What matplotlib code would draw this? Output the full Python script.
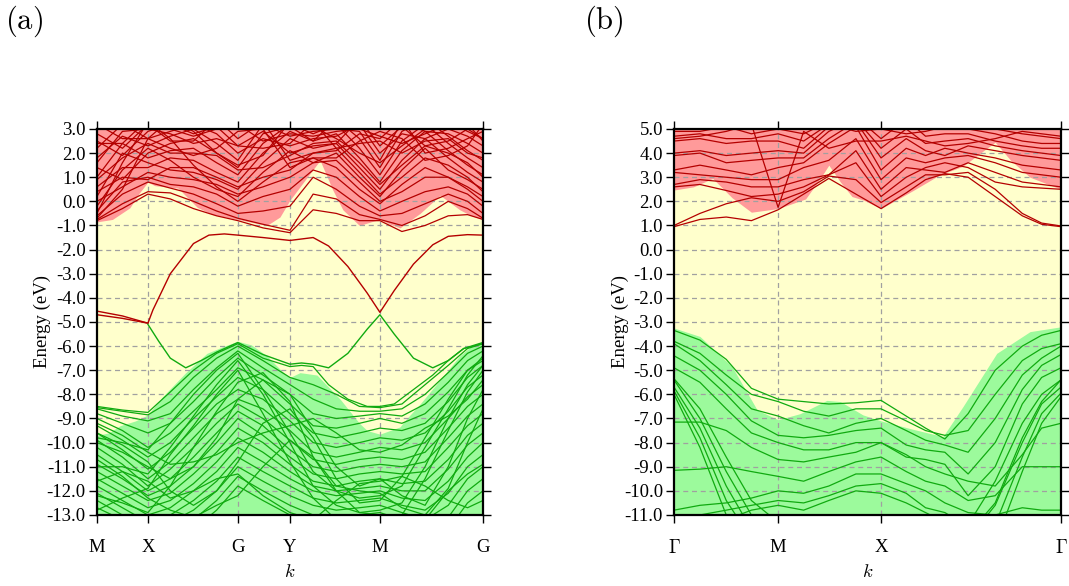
import matplotlib
matplotlib.use("Agg")
import matplotlib.pyplot as plt
import numpy as np

plt.rcParams['font.family'] = ['Liberation Serif', 'DejaVu Serif']
plt.rcParams['mathtext.fontset'] = 'cm'
plt.rcParams['axes.unicode_minus'] = False

# ---------------- panel (a) data ----------------
a_tick_pos = [0.0, 0.132, 0.365, 0.5, 0.733, 1.0]
a_tick_lab = ['M', 'X', 'G', 'Y', 'M', 'G']
a_ylim = (-13.0, 3.0)
a_grid = [0.0, 0.066, 0.132, 0.19, 0.25, 0.31, 0.365, 0.43, 0.5, 0.56, 0.62, 0.68, 0.733, 0.79, 0.85, 0.91, 0.96, 1.0]

# conduction band envelope (lower edge of red region)
a_cb_env_k = [0.0, 0.04, 0.085, 0.11, 0.132, 0.15, 0.18, 0.21, 0.26, 0.30, 0.365, 0.41, 0.44, 0.474, 0.5, 0.54, 0.578, 0.61, 0.637, 0.68, 0.71, 0.733, 0.76, 0.785, 0.837, 0.889, 0.94, 0.97, 1.0]
a_cb_env_E = [-0.85, -0.75, -0.27, 0.35, 0.8, 0.65, 0.6, 0.55, -0.25, -0.55, -0.75, -0.9, -1.0, -0.65, 0.05, 0.9, 1.7, 0.5, -0.35, -1.0, -0.85, -0.75, -0.95, -1.1, -0.5, 0.25, -0.35, -0.6, -0.75]
# valence band envelope (upper edge of green region)
a_vb_env_k = [0.0, 0.03, 0.06, 0.10, 0.132, 0.17, 0.23, 0.285, 0.33, 0.365, 0.40, 0.44, 0.48, 0.5, 0.526, 0.57, 0.63, 0.68, 0.70, 0.733, 0.785, 0.80, 0.837, 0.889, 0.94, 0.97, 1.0]
a_vb_env_E = [-9.7, -9.6, -9.3, -9.1, -8.85, -8.1, -7.1, -6.3, -6.0, -5.8, -5.95, -6.4, -7.05, -7.3, -7.1, -7.2, -8.2, -9.2, -9.5, -9.65, -9.35, -9.05, -8.4, -7.4, -6.4, -6.0, -5.8]

# in-gap conduction bands
a_cgap1_k = [0.0, 0.066, 0.132, 0.145, 0.16, 0.19, 0.25, 0.29, 0.33, 0.365, 0.43, 0.5, 0.56, 0.60, 0.65, 0.70, 0.733, 0.77, 0.82, 0.87, 0.91, 0.96, 1.0]
a_cgap1_E = [-4.55, -4.75, -5.05, -4.5, -4.0, -3.0, -1.75, -1.4, -1.35, -1.4, -1.5, -1.62, -1.5, -1.85, -2.7, -3.8, -4.6, -3.7, -2.6, -1.8, -1.45, -1.38, -1.4]
a_cgap2_k = [0.0, 0.066, 0.132]
a_cgap2_E = [-4.7, -4.85, -5.05]
# in-gap valence bands
a_vgap_k = [0.132, 0.16, 0.19, 0.23, 0.27, 0.31, 0.365, 0.43, 0.5, 0.53, 0.56, 0.6, 0.65, 0.70, 0.733, 0.77, 0.82, 0.87, 0.91, 0.95, 1.0]
a_vgap_E = [-5.1, -5.8, -6.5, -6.9, -6.6, -6.25, -5.85, -6.35, -6.75, -6.7, -6.75, -6.9, -6.3, -5.3, -4.7, -5.5, -6.5, -6.9, -6.6, -6.1, -5.85]
a_vgap2_k = [0.0, 0.066, 0.132, 0.19, 0.25, 0.31, 0.365, 0.43, 0.5, 0.53, 0.56, 0.6, 0.65, 0.70, 0.733, 0.77, 0.82, 0.87, 0.91, 0.95, 1.0]
a_vgap2_E = [-8.5, -8.65, -8.75, -7.9, -7.0, -6.3, -5.9, -6.5, -6.85, -6.8, -6.85, -7.6, -8.2, -8.5, -8.5, -8.4, -7.8, -7.2, -6.6, -6.1, -5.9]

a_red_bands = [
    [-0.8, -0.3, 0.3, 0.1, -0.3, -0.6, -0.8, -1.1, -1.3, -0.35, -0.5, -0.8, -0.8, -1.25, -1.0, -0.6, -0.55, -0.75],
    [-0.75, -0.1, 0.4, 0.35, 0.0, -0.4, -0.7, -0.95, -1.2, 0.3, 0.1, -0.55, -0.75, -1.0, -0.6, 0.0, -0.3, -0.7],
    [-0.6, 0.3, 0.8, 0.55, 0.3, -0.1, -0.5, -0.4, -0.2, 1.0, 0.5, -0.2, -0.6, -0.5, -0.1, 0.3, 0.0, -0.5],
    [-0.4, 0.8, 1.0, 0.7, 0.6, 0.3, -0.2, 0.2, 0.5, 1.3, 1.0, 0.2, -0.4, 0.0, 0.4, 0.6, 0.3, -0.2],
    [-0.5, 1.6, 3.3, 2.6, 1.5, 0.6, 0.0, 0.8, 1.6, 1.8, 1.4, 0.5, -0.1, 0.7, 1.4, 1.0, 0.6, 0.2],
    [-0.2, 1.3, 2.2, 1.7, 1.0, 0.5, 0.2, 1.2, 2.1, 1.6, 2.0, 1.0, 0.2, 1.3, 2.2, 1.3, 0.9, 0.5],
    [0.2, 2.0, 1.6, 1.3, 1.2, 0.9, 0.5, 1.6, 2.6, 2.2, 2.4, 1.4, 0.5, 1.7, 2.6, 1.8, 1.2, 0.8],
    [0.6, 1.4, 1.4, 1.8, 1.7, 1.2, 0.8, 2.0, 2.9, 2.5, 2.8, 1.8, 0.8, 2.1, 2.9, 2.1, 1.5, 1.1],
    [1.0, 2.4, 1.8, 2.1, 2.2, 1.6, 1.1, 2.4, 3.2, 2.8, 3.2, 2.2, 1.1, 2.5, 3.2, 2.4, 1.8, 1.4],
    [1.4, 0.9, 2.0, 2.4, 2.6, 2.0, 1.4, 2.8, 3.1, 2.5, 3.4, 2.6, 1.4, 2.9, 3.4, 2.7, 2.1, 1.7],
    [1.8, 2.7, 2.3, 2.7, 3.0, 2.4, 1.7, 3.2, 2.7, 2.9, 3.0, 2.9, 1.7, 3.3, 2.9, 2.8, 2.4, 2.0],
    [2.2, 3.2, 2.6, 2.9, 3.2, 2.8, 2.0, 2.6, 2.3, 2.6, 2.7, 3.2, 2.0, 2.8, 2.6, 3.0, 2.7, 2.3],
    [2.5, 1.9, 2.9, 3.2, 2.8, 3.1, 2.3, 2.9, 2.0, 2.3, 2.4, 3.4, 2.3, 3.1, 2.3, 2.5, 3.0, 2.6],
    [2.8, 2.2, 3.2, 2.5, 2.5, 3.4, 2.6, 3.3, 1.7, 2.0, 2.1, 2.8, 2.6, 3.4, 2.0, 2.2, 2.6, 2.9],
    [0.0, 0.6, 1.2, 1.0, 0.9, 0.7, 0.3, 0.6, 1.0, 1.6, 1.7, 0.8, 0.0, 0.4, 1.0, 1.0, 0.5, 0.0],
    [0.4, 1.0, 0.9, 1.4, 1.4, 1.0, 0.6, 1.0, 1.3, 2.0, 2.2, 1.2, 0.3, 1.0, 1.8, 1.5, 1.0, 0.4],
    [3.2, 2.6, 2.6, 2.2, 1.9, 2.2, 2.9, 3.0, 1.4, 1.8, 1.8, 2.5, 2.9, 2.6, 1.7, 1.9, 2.3, 3.2],
    [-0.7, 0.5, 2.6, 3.4, 2.9, 2.0, 1.5, 1.9, 3.3, 3.1, 2.6, 2.0, 1.6, 2.3, 3.0, 3.3, 2.9, 2.6],
    [0.9, 1.8, 2.4, 2.0, 2.0, 1.9, 1.3, 1.4, 1.9, 2.4, 2.5, 1.6, 0.7, 1.5, 2.3, 2.0, 1.6, 1.0],
    [1.6, 2.9, 3.0, 2.8, 2.4, 2.6, 2.3, 2.2, 2.4, 3.3, 2.2, 2.4, 2.5, 2.0, 2.5, 2.6, 2.0, 1.8],
    [2.4, 2.4, 3.4, 3.0, 2.7, 3.0, 3.2, 2.5, 2.8, 2.7, 2.9, 3.0, 2.7, 2.4, 2.8, 3.2, 3.2, 2.5],
]

a_green_bands = [
    [-8.55, -8.7, -8.85, -8.3, -7.3, -6.5, -6.0, -6.6, -7.3, -7.6, -8.0, -8.5, -8.55, -8.4, -7.6, -6.8, -6.1, -5.9],
    [-8.6, -8.9, -9.1, -8.8, -7.8, -6.9, -6.2, -6.9, -7.6, -8.2, -8.6, -8.7, -8.7, -8.6, -8.0, -7.1, -6.3, -6.0],
    [-8.8, -9.2, -9.6, -9.2, -8.3, -7.3, -6.5, -7.2, -8.0, -8.8, -9.0, -8.9, -8.8, -8.9, -8.4, -7.5, -6.6, -6.2],
    [-9.0, -9.5, -10.2, -9.6, -8.7, -7.8, -6.9, -7.4, -8.4, -9.3, -9.4, -9.2, -9.0, -9.2, -8.8, -7.9, -7.0, -6.5],
    [-9.3, -9.9, -10.6, -10.0, -9.0, -8.1, -7.3, -7.8, -8.8, -9.6, -9.8, -9.6, -9.4, -9.5, -9.2, -8.3, -7.3, -6.8],
    [-9.6, -10.3, -11.1, -10.4, -9.4, -8.4, -7.8, -8.2, -9.1, -10.0, -10.2, -10.0, -9.8, -9.9, -9.6, -8.7, -7.7, -7.2],
    [-9.9, -10.6, -11.5, -10.8, -9.8, -8.8, -8.2, -8.6, -9.5, -10.4, -10.6, -10.4, -10.2, -10.3, -10.0, -9.0, -8.1, -7.6],
    [-10.2, -10.9, -11.8, -11.1, -10.2, -9.2, -8.4, -9.0, -9.9, -10.7, -10.9, -10.7, -10.6, -10.7, -10.4, -9.4, -8.5, -8.0],
    [-10.5, -11.2, -12.0, -11.5, -10.6, -9.6, -8.7, -9.3, -10.3, -11.0, -11.2, -11.0, -10.9, -11.0, -10.8, -9.8, -8.9, -8.4],
    [-10.9, -11.5, -12.2, -11.8, -11.0, -10.0, -9.0, -9.7, -10.6, -11.3, -11.5, -11.3, -11.2, -11.3, -11.2, -10.2, -9.3, -8.8],
    [-11.2, -11.8, -12.4, -12.1, -11.3, -10.4, -9.4, -10.0, -10.9, -11.6, -11.8, -11.6, -11.5, -11.7, -11.6, -10.7, -9.7, -9.2],
    [-11.5, -12.1, -12.7, -12.4, -11.7, -10.8, -9.8, -10.4, -11.2, -11.8, -12.0, -11.9, -11.8, -12.0, -12.0, -11.1, -10.1, -9.6],
    [-11.8, -12.4, -13.0, -12.7, -12.0, -11.2, -10.2, -10.8, -11.5, -12.0, -12.2, -12.1, -12.0, -12.3, -12.4, -11.6, -10.6, -10.0],
    [-12.1, -12.7, -13.3, -13.0, -12.4, -11.6, -10.6, -11.2, -11.8, -12.3, -12.5, -12.4, -12.3, -12.6, -12.8, -12.1, -11.0, -10.5],
    [-12.4, -13.0, -13.6, -13.3, -12.8, -12.0, -11.0, -11.6, -12.2, -12.6, -12.8, -12.7, -12.6, -12.9, -13.2, -12.6, -11.5, -11.0],
    [-12.7, -13.2, -13.9, -13.6, -13.2, -12.4, -11.4, -12.0, -12.6, -13.0, -13.1, -13.0, -12.9, -13.2, -13.6, -13.1, -12.0, -11.5],
    [-13.0, -13.5, -14.0, -14.0, -13.6, -12.8, -11.8, -12.4, -13.0, -13.4, -13.5, -13.4, -13.3, -13.6, -14.0, -13.6, -12.5, -12.0],
    [-9.8, -10.0, -10.3, -9.2, -8.0, -7.0, -6.3, -7.8, -9.6, -11.2, -12.0, -12.3, -12.2, -11.8, -10.2, -8.6, -7.2, -6.4],
    [-12.8, -12.3, -11.9, -10.5, -9.3, -8.0, -7.0, -8.8, -10.8, -12.3, -13.2, -13.5, -13.4, -13.0, -11.5, -9.5, -7.9, -7.0],
    [-10.0, -10.4, -11.0, -11.5, -11.0, -9.8, -8.2, -7.4, -8.0, -9.5, -11.0, -11.8, -11.5, -12.2, -12.6, -11.0, -9.0, -7.8],
    [-9.6, -10.1, -10.8, -12.0, -12.6, -12.0, -10.8, -9.2, -8.6, -9.8, -11.5, -12.5, -12.4, -11.4, -9.8, -8.2, -7.0, -6.6],
    [-11.0, -11.0, -11.3, -10.2, -8.9, -7.6, -6.6, -8.0, -10.0, -11.8, -12.6, -12.9, -12.8, -12.5, -11.0, -9.0, -7.6, -6.8],
    [-12.2, -12.5, -12.9, -11.8, -10.2, -8.7, -7.5, -7.1, -8.3, -10.6, -11.8, -12.0, -12.1, -12.7, -13.0, -11.9, -10.0, -8.6],
    [-9.2, -9.7, -10.4, -10.9, -10.8, -10.5, -10.0, -9.6, -9.3, -9.0, -9.6, -10.3, -10.4, -10.1, -9.4, -8.9, -8.2, -7.4],
    [-10.7, -11.4, -12.3, -12.8, -13.1, -12.6, -12.2, -11.0, -9.9, -10.6, -12.0, -12.9, -13.0, -13.3, -13.2, -12.0, -11.3, -10.9],
    [-11.6, -11.2, -11.6, -12.3, -12.0, -11.5, -11.3, -12.2, -12.9, -13.2, -12.4, -11.7, -11.6, -11.4, -11.8, -12.4, -12.7, -12.4],
]

# ---------------- panel (b) data ----------------
b_tick_pos = [0.0, 0.269, 0.535, 1.0]
b_tick_lab = [r'$\Gamma$', 'M', 'X', r'$\Gamma$']
b_ylim = (-11.0, 5.0)
b_grid = [0.0, 0.067, 0.135, 0.2, 0.269, 0.335, 0.4, 0.47, 0.535, 0.6, 0.65, 0.70, 0.76, 0.83, 0.9, 0.95, 1.0]

b_cb_env_k = [0.0, 0.05, 0.1, 0.15, 0.2, 0.269, 0.34, 0.38, 0.40, 0.43, 0.46, 0.49, 0.535, 0.618, 0.687, 0.746, 0.80, 0.83, 0.87, 0.92, 1.0]
b_cb_env_E = [2.47, 2.6, 2.95, 2.15, 1.55, 1.7, 2.1, 3.0, 3.5, 2.8, 2.2, 2.05, 1.7, 2.45, 3.1, 3.45, 4.1, 4.45, 3.7, 3.0, 2.5]
b_vb_env_k = [0.0, 0.067, 0.15, 0.215, 0.269, 0.326, 0.395, 0.43, 0.488, 0.535, 0.618, 0.695, 0.747, 0.834, 0.92, 1.0]
b_vb_env_E = [-3.25, -3.6, -4.85, -6.65, -7.05, -6.8, -6.25, -6.3, -6.85, -7.1, -7.45, -7.75, -6.5, -4.3, -3.4, -3.2]

b_red_bands = [
    [0.95, 1.25, 1.35, 1.2, 1.65, 2.3, 2.95, 2.3, 1.7, 2.35, 2.9, 3.15, 3.0, 2.2, 1.4, 1.05, 0.95],
    [1.0, 1.5, 1.9, 2.15, 2.0, 2.4, 3.05, 2.9, 1.95, 2.6, 3.1, 3.1, 3.2, 2.5, 1.5, 1.1, 0.98],
    [2.6, 2.7, 2.45, 2.2, 2.3, 2.6, 3.1, 3.6, 2.2, 3.0, 3.4, 3.6, 3.4, 2.8, 2.6, 2.55, 2.5],
    [2.7, 2.9, 2.8, 2.6, 2.6, 2.9, 3.1, 4.1, 2.5, 3.4, 3.3, 3.2, 3.6, 3.2, 2.8, 2.7, 2.6],
    [3.2, 3.1, 3.0, 2.9, 2.9, 3.4, 3.7, 4.6, 2.9, 3.8, 3.6, 3.8, 3.9, 3.6, 3.2, 3.1, 3.0],
    [3.3, 3.5, 3.3, 3.1, 3.4, 3.6, 4.4, 5.1, 3.3, 4.2, 3.9, 4.2, 4.0, 3.8, 3.5, 3.4, 3.3],
    [3.9, 4.0, 3.6, 3.7, 3.8, 3.8, 4.6, 5.3, 3.8, 4.6, 4.1, 3.9, 4.3, 4.1, 3.9, 3.8, 3.7],
    [4.0, 4.1, 3.9, 4.0, 4.1, 4.0, 4.9, 5.4, 4.2, 5.0, 4.4, 4.5, 4.6, 4.3, 4.1, 4.0, 3.9],
    [4.5, 4.6, 4.4, 4.5, 4.5, 4.2, 5.1, 5.5, 4.6, 5.4, 4.7, 4.8, 4.8, 4.5, 4.3, 4.2, 4.2],
    [4.7, 4.8, 4.6, 4.6, 4.8, 4.5, 5.2, 4.9, 5.0, 4.8, 4.9, 5.1, 5.0, 4.8, 4.5, 4.4, 4.4],
    [4.9, 4.9, 5.1, 4.8, 5.0, 4.8, 5.3, 5.1, 5.3, 5.0, 5.2, 5.2, 5.1, 5.0, 4.8, 4.7, 4.6],
    [4.6, 4.7, 4.9, 5.2, 1.75, 4.9, 4.2, 4.5, 4.5, 4.7, 4.5, 4.3, 4.4, 4.6, 4.9, 4.8, 4.7],
]

b_green_bands = [
    [-3.35, -3.75, -4.55, -5.75, -6.2, -6.3, -6.4, -6.35, -6.25, -6.9, -7.4, -7.85, -6.8, -5.0, -4.0, -3.55, -3.35],
    [-3.8, -4.3, -5.2, -6.0, -6.3, -6.7, -6.9, -6.6, -6.6, -7.1, -7.5, -7.7, -7.5, -6.0, -4.6, -4.1, -3.9],
    [-3.9, -4.6, -5.6, -6.6, -6.9, -7.3, -7.6, -7.2, -7.0, -7.5, -7.9, -8.1, -8.4, -7.0, -5.2, -4.5, -4.0],
    [-4.4, -5.0, -6.0, -7.1, -7.7, -7.8, -7.7, -7.5, -7.4, -8.1, -8.3, -8.4, -9.3, -8.0, -5.8, -4.8, -4.35],
    [-4.9, -5.5, -6.6, -7.6, -8.0, -8.3, -8.3, -8.0, -8.0, -8.6, -8.7, -8.9, -10.2, -9.0, -6.4, -5.3, -4.9],
    [-5.35, -6.6, -8.6, -10.4, -11.3, -11.2, -11.5, -11.8, -11.5, -11.8, -12.0, -12.0, -11.8, -10.5, -7.8, -6.3, -5.4],
    [-5.4, -7.0, -9.2, -11.0, -11.8, -12.0, -12.0, -12.0, -12.0, -12.0, -12.0, -12.0, -11.4, -9.6, -7.2, -6.0, -5.4],
    [-5.7, -7.4, -9.8, -11.6, -12.0, -12.0, -12.0, -12.0, -12.0, -12.0, -12.0, -12.0, -12.0, -10.6, -8.0, -6.4, -5.7],
    [-5.85, -7.8, -10.4, -12.0, -12.0, -12.0, -12.0, -12.0, -12.0, -12.0, -12.0, -12.0, -12.0, -11.4, -8.6, -6.8, -5.95],
    [-6.0, -8.2, -11.0, -12.5, -12.5, -12.5, -12.5, -12.5, -12.5, -12.5, -12.5, -12.5, -12.5, -12.2, -9.2, -7.2, -6.1],
    [-7.15, -7.15, -7.5, -8.2, -8.7, -8.8, -8.6, -8.4, -8.0, -8.5, -9.0, -9.3, -9.6, -9.8, -8.5, -7.4, -7.2],
    [-9.15, -9.1, -9.0, -9.2, -9.4, -9.6, -9.2, -8.8, -8.6, -9.2, -9.6, -9.8, -10.4, -10.2, -9.0, -9.0, -9.0],
    [-10.8, -10.6, -10.5, -10.3, -10.0, -10.1, -9.8, -9.3, -9.3, -9.7, -10.0, -10.5, -10.9, -11.0, -10.7, -10.8, -10.8],
    [-11.2, -11.0, -10.8, -10.6, -10.4, -10.5, -10.2, -9.8, -9.7, -10.1, -10.7, -10.9, -11.5, -11.2, -11.0, -11.0, -11.0],
    [-11.5, -11.5, -11.2, -10.8, -10.6, -10.8, -10.4, -10.0, -10.1, -10.5, -10.9, -11.3, -12.0, -12.0, -12.0, -12.0, -11.5],
]

# ---------------- styles ----------------
RED_LINE = '#b40000'
GREEN_LINE = '#10aa10'
RED_FILL = '#ff9a9a'
GREEN_FILL = '#9cfa9c'
GAP_FILL = '#ffffcc'

fig = plt.figure(figsize=(10.69, 5.86), dpi=100)
ax_a = fig.add_axes([0.0907, 0.1212, 0.3611, 0.6587])
ax_b = fig.add_axes([0.6305, 0.1212, 0.3620, 0.6587])


def style_axes(ax, ylim, tpos, tlab, ylab_x):
    ax.set_facecolor(GAP_FILL)
    ax.set_xlim(0, 1)
    ax.set_ylim(*ylim)
    yt = np.arange(ylim[0], ylim[1] + 0.01, 1.0)
    ax.set_yticks(yt)
    ax.set_yticklabels(['%.1f' % v for v in yt], fontsize=13.5)
    ax.set_xticks(tpos)
    ax.set_xticklabels(tlab, fontsize=13.5)
    ax.tick_params(axis='both', direction='out', length=6, width=1.0,
                   top=True, right=True, labeltop=False, labelright=False, pad=2)
    ax.tick_params(axis='x', pad=11)
    for s in ax.spines.values():
        s.set_linewidth(1.6)
        s.set_zorder(10)
    for v in yt[1:-1]:
        ax.axhline(v, color='#a0a0a0', lw=0.9, ls=(0, (4, 3)), zorder=3)
    for t in tpos[1:-1]:
        ax.axvline(t, color='#a0a0a0', lw=0.9, ls=(0, (4, 3)), zorder=3)
    ax.set_ylabel('Energy (eV)', fontsize=13.5, va='center')
    ax.yaxis.set_label_coords(ylab_x, 0.5)
    ax.set_xlabel(r'$k$', fontsize=13.5, va='center')
    ax.xaxis.set_label_coords(0.5, -0.148)


# panel (a)
style_axes(ax_a, a_ylim, a_tick_pos, a_tick_lab, -0.1425)
ax_a.fill_between(a_cb_env_k, a_cb_env_E, a_ylim[1] + 1, color=RED_FILL, lw=0, zorder=1)
ax_a.fill_between(a_vb_env_k, a_ylim[0] - 1, a_vb_env_E, color=GREEN_FILL, lw=0, zorder=1)
for band in a_red_bands:
    ax_a.plot(a_grid, band, color=RED_LINE, lw=0.9, zorder=4)
for band in a_green_bands:
    ax_a.plot(a_grid, band, color=GREEN_LINE, lw=0.9, zorder=4)
ax_a.plot(a_cgap1_k, a_cgap1_E, color=RED_LINE, lw=1.0, zorder=5)
ax_a.plot(a_cgap2_k, a_cgap2_E, color=RED_LINE, lw=1.0, zorder=5)
ax_a.plot(a_vgap_k, a_vgap_E, color=GREEN_LINE, lw=1.0, zorder=5)
ax_a.plot(a_vgap2_k, a_vgap2_E, color=GREEN_LINE, lw=0.9, zorder=5)

# panel (b)
style_axes(ax_b, b_ylim, b_tick_pos, b_tick_lab, -0.1395)
ax_b.fill_between(b_cb_env_k, b_cb_env_E, b_ylim[1] + 1, color=RED_FILL, lw=0, zorder=1)
ax_b.fill_between(b_vb_env_k, b_ylim[0] - 1, b_vb_env_E, color=GREEN_FILL, lw=0, zorder=1)
for band in b_red_bands:
    ax_b.plot(b_grid, band, color=RED_LINE, lw=0.9, zorder=4)
for band in b_green_bands:
    ax_b.plot(b_grid, band, color=GREEN_LINE, lw=0.9, zorder=4)

fig.text(24 / 1069, 1 - 21 / 586, r'$\mathrm{(a)}$', fontsize=22, ha='center', va='center')
fig.text(604 / 1069, 1 - 21 / 586, r'$\mathrm{(b)}$', fontsize=22, ha='center', va='center')

fig.savefig('out.png', dpi=100)
